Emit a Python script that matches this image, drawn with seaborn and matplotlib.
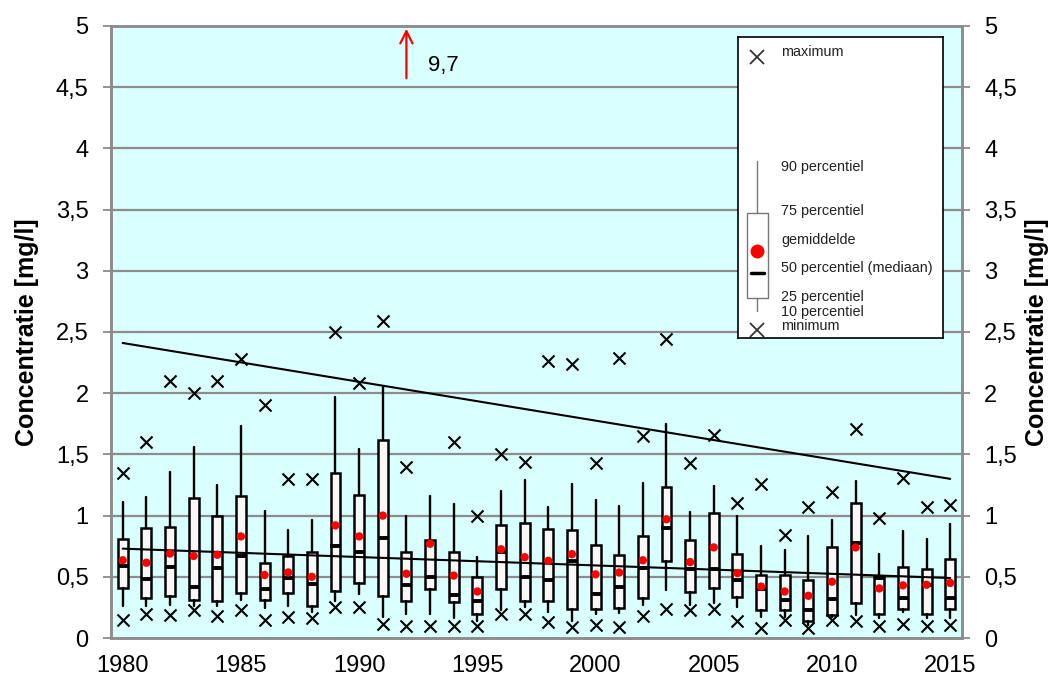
import matplotlib
matplotlib.use("Agg")
import matplotlib.pyplot as plt
import numpy as np
import pandas as pd
import seaborn as sns
from matplotlib.ticker import FixedLocator, FuncFormatter

# yearly statistics (mg/l)
years = list(range(1980, 2016))
maximum = [1.35, 1.60, 2.10, 2.00, 2.10, 2.28, 1.90, 1.30, 1.30, 2.50,
           2.08, 2.59, 1.40, np.nan, 1.60, 1.00, 1.50, 1.44, 2.26, 2.24,
           1.43, 2.29, 1.65, 2.44, 1.43, 1.66, 1.10, 1.26, 0.84, 1.07,
           1.19, 1.71, 0.98, 1.31, 1.07, 1.09]
p90 = [1.11, 1.15, 1.36, 1.56, 1.25, 1.73, 1.04, 0.88, 0.96, 1.97,
       1.54, 2.05, 1.00, 1.16, 1.095, 0.665, 1.20, 1.29, 1.07, 1.255,
       1.13, 1.08, 1.27, 1.75, 1.03, 1.245, 0.995, 0.755, 0.72, 0.83,
       0.965, 1.28, 0.69, 0.875, 0.805, 0.935]
p75 = [0.81, 0.90, 0.91, 1.14, 1.00, 1.16, 0.61, 0.67, 0.70, 1.345,
       1.165, 1.62, 0.70, 0.80, 0.70, 0.50, 0.925, 0.94, 0.89, 0.88,
       0.76, 0.68, 0.83, 1.23, 0.80, 1.02, 0.685, 0.515, 0.515, 0.475,
       0.74, 1.10, 0.495, 0.58, 0.565, 0.645]
mean = [0.635, 0.615, 0.69, 0.67, 0.68, 0.83, 0.515, 0.535, 0.50, 0.92,
        0.83, 1.00, 0.525, 0.77, 0.51, 0.38, 0.725, 0.66, 0.63, 0.685,
        0.52, 0.535, 0.635, 0.97, 0.62, 0.74, 0.53, 0.42, 0.38, 0.345,
        0.46, 0.74, 0.405, 0.43, 0.435, 0.45]
median = [0.59, 0.48, 0.58, 0.42, 0.57, 0.67, 0.40, 0.49, 0.44, 0.75,
          0.70, 0.82, 0.435, 0.50, 0.35, 0.305, 0.70, 0.50, 0.47, 0.63,
          0.36, 0.42, 0.575, 0.895, 0.56, 0.56, 0.47, 0.40, 0.31, 0.23,
          0.315, 0.775, 0.49, 0.325, 0.43, 0.325]
p25 = [0.41, 0.33, 0.34, 0.31, 0.30, 0.37, 0.31, 0.365, 0.26, 0.385,
       0.45, 0.34, 0.305, 0.40, 0.295, 0.195, 0.40, 0.30, 0.30, 0.235,
       0.235, 0.245, 0.33, 0.63, 0.375, 0.41, 0.335, 0.225, 0.225, 0.14,
       0.185, 0.285, 0.20, 0.24, 0.20, 0.235]
p10 = [0.26, 0.26, 0.27, 0.26, 0.26, 0.31, 0.245, 0.26, 0.215, 0.305,
       0.36, 0.175, 0.20, 0.20, 0.16, 0.14, 0.23, 0.255, 0.21, 0.135,
       0.20, 0.205, 0.27, 0.39, 0.27, 0.29, 0.255, 0.175, 0.175, 0.105,
       0.175, 0.19, 0.16, 0.21, 0.16, 0.16]
minimum = [0.15, 0.20, 0.19, 0.23, 0.18, 0.23, 0.15, 0.17, 0.16, 0.25,
           0.25, 0.115, 0.10, 0.10, 0.10, 0.10, 0.20, 0.20, 0.13, 0.09,
           0.105, 0.09, 0.18, 0.24, 0.23, 0.24, 0.135, 0.085, 0.145, 0.085,
           0.145, 0.135, 0.10, 0.115, 0.10, 0.105]

# off-scale maximum, shown as an arrow
off_year = 1992
off_value = "9,7"

# trend lines (start and end values)
trend_years = [1980, 2015]
trend_max = [2.41, 1.30]
trend_mean = [0.73, 0.49]

ytick_values = [0, 0.5, 1, 1.5, 2, 2.5, 3, 3.5, 4, 4.5, 5]

sns.set_style("white")
plt.rcParams["font.family"] = ["Liberation Sans", "DejaVu Sans"]
plt.rcParams["text.color"] = "black"
plt.rcParams["axes.labelcolor"] = "black"

BG = "#d9ffff"
GRID = "#8c8c8c"


def nl_fmt(v, _pos=None):
    return f"{v:g}".replace(".", ",")


df = pd.DataFrame({"jaar": years, "maximum": maximum, "p90": p90, "p75": p75,
                   "gemiddelde": mean, "mediaan": median, "p25": p25,
                   "p10": p10, "minimum": minimum})
trend = pd.DataFrame({"jaar": trend_years, "max": trend_max, "gem": trend_mean})

fig = plt.figure(figsize=(10.56, 6.82), dpi=100)
ax = fig.add_axes([0.105, 0.0645, 0.806, 0.8975])
ax.set_facecolor(BG)

for v in ytick_values[1:-1]:
    ax.axhline(v, color=GRID, lw=1.6, zorder=0.5)

stats = [dict(med=r.mediaan, q1=r.p25, q3=r.p75, whislo=r.p10, whishi=r.p90,
              fliers=[]) for r in df.itertuples()]
ax.bxp(stats, positions=df["jaar"], widths=0.42, patch_artist=True,
       showcaps=False, manage_ticks=False,
       boxprops=dict(facecolor="#f8f8f8", edgecolor="black", lw=1.8),
       whiskerprops=dict(color="black", lw=1.7),
       medianprops=dict(lw=0), zorder=2)

sns.scatterplot(data=df, x="jaar", y="mediaan", marker="_", s=45,
                color="black", linewidth=2.8, ax=ax, zorder=3, legend=False)
sns.lineplot(data=trend, x="jaar", y="max", color="black", lw=1.5, ax=ax,
             zorder=4)
sns.lineplot(data=trend, x="jaar", y="gem", color="black", lw=1.5, ax=ax,
             zorder=4)
sns.scatterplot(data=df, x="jaar", y="gemiddelde", color="red", s=36,
                edgecolor="none", ax=ax, zorder=5, legend=False)
sns.scatterplot(data=df, x="jaar", y="maximum", marker="x", color="black",
                s=75, linewidth=1.5, ax=ax, zorder=5, legend=False)
sns.scatterplot(data=df, x="jaar", y="minimum", marker="x", color="black",
                s=75, linewidth=1.5, ax=ax, zorder=5, legend=False)

ax.annotate("", xy=(off_year, 5.0), xytext=(off_year, 4.55),
            arrowprops=dict(arrowstyle="->", color="red", lw=1.6,
                            mutation_scale=22), zorder=6)
ax.text(off_year + 0.9, 4.68, off_value, fontsize=16, va="center", ha="left")

ax.set_xlim(1979.5, 2015.5)
ax.set_ylim(0, 5)
ax.set_xticks(range(1980, 2016, 5))
ax.xaxis.set_minor_locator(FixedLocator(np.arange(1979.5, 2016, 1)))
ax.tick_params(axis="x", which="major", length=0, labelsize=17, pad=12,
               labelcolor="black")
ax.tick_params(axis="x", which="minor", length=6, width=1.3, color=GRID,
               direction="out")
ax.set_yticks(ytick_values)
ax.yaxis.set_major_formatter(FuncFormatter(nl_fmt))
ax.tick_params(axis="y", length=6, width=1.3, color=GRID, labelsize=17,
               pad=10, labelcolor="black")
ax.set_xlabel("")
ax.set_ylabel("Concentratie [mg/l]", fontsize=18, fontweight="bold",
              labelpad=12)
for sp in ax.spines.values():
    sp.set_color(GRID)
    sp.set_linewidth(1.8)
    sp.set_visible(True)

ax2 = ax.twinx()
ax2.set_ylim(0, 5)
ax2.set_yticks(ytick_values)
ax2.yaxis.set_major_formatter(FuncFormatter(nl_fmt))
ax2.tick_params(axis="y", length=6, width=1.3, color=GRID, labelsize=17,
                pad=10, labelcolor="black")
ax2.set_ylabel("Concentratie [mg/l]", fontsize=18, fontweight="bold",
               rotation=90, labelpad=6)
for sp in ax2.spines.values():
    sp.set_color(GRID)
    sp.set_linewidth(1.8)

# legend panel, laid out in pixel units of the reference
lg = fig.add_axes([738 / 1056, 1 - 338 / 682, 205 / 1056, 301 / 682])
lg.set_xlim(738, 943)
lg.set_ylim(338, 37)
lg.set_xticks([])
lg.set_yticks([])
lg.set_facecolor("white")
for sp in lg.spines.values():
    sp.set_color("black")
    sp.set_linewidth(1.2)
    sp.set_visible(True)
lg.plot([757, 757], [161, 213], color="#777777", lw=1)
lg.plot([757, 757], [298, 311], color="#777777", lw=1)
lg.add_patch(plt.Rectangle((747, 213), 21, 85, facecolor="white",
                           edgecolor="#777777", lw=1))
lg.plot([757], [251], "o", color="red", ms=9)
lg.plot([751, 764], [273, 273], color="black", lw=2.5)
lg.plot([757], [57], "x", color="#333333", ms=10, mew=1.3)
lg.plot([757], [330], "x", color="#333333", ms=10, mew=1.3)
legend_text = [("maximum", 52), ("90 percentiel", 167), ("75 percentiel", 211),
               ("gemiddelde", 240), ("50 percentiel (mediaan)", 268),
               ("25 percentiel", 297), ("10 percentiel", 312), ("minimum", 326)]
for label, py in legend_text:
    lg.text(781, py, label, fontsize=10.4, va="center", ha="left",
            color="#222222")

fig.savefig("out.png", dpi=100, facecolor="white")
